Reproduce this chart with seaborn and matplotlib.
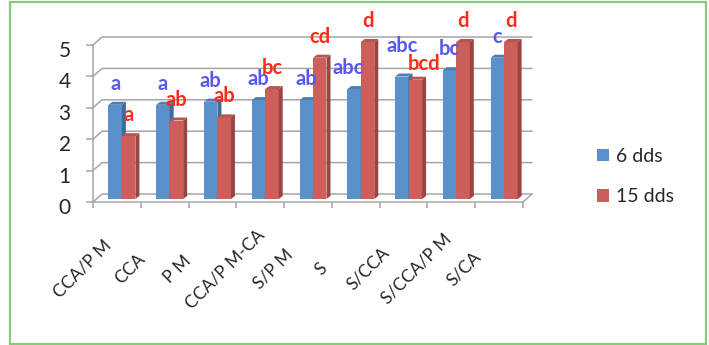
import matplotlib
matplotlib.use("Agg")
import matplotlib.pyplot as plt
from matplotlib.patches import Polygon, Rectangle
from matplotlib.transforms import ScaledTranslation
import numpy as np
import pandas as pd
import seaborn as sns

# Treatments and mean scores at two sampling dates
treatments = ["CCA/P M", "CCA", "P M", "CCA/P M-CA", "S/P M", "S",
              "S/CCA", "S/CCA/P M", "S/CA"]
series = ["6 dds", "15 dds"]
dds6 = [3.0, 3.0, 3.1, 3.15, 3.15, 3.5, 3.9, 4.1, 4.5]
dds15 = [2.0, 2.5, 2.6, 3.5, 4.5, 5.0, 3.8, 5.0, 5.0]
letters6 = ["a", "a", "ab", "ab", "ab", "abc", "abc", "bc", "c"]
letters15 = ["a", "ab", "ab", "bc", "cd", "d", "bcd", "d", "d"]
yticks = [0, 1, 2, 3, 4, 5]

# small pixel nudges that keep crowded letters apart
nudge6 = {5: (-6, 0), 6: (0, 10)}
nudge15 = {6: (9, -5)}

df = pd.DataFrame({
    "treatment": treatments * 2,
    "value": dds6 + dds15,
    "stage": [series[0]] * len(treatments) + [series[1]] * len(treatments),
})

sns.set_style("white")
plt.rcParams["font.family"] = ["Lato", "DejaVu Sans"]

blue, red = "#5B90CA", "#CD5F5B"
blue_side, red_side = "#3F6C9F", "#9A4542"
blue_top, red_top = "#4C7DB5", "#B85450"
grid_col = "#A6A6A6"
text_col = "#262626"

W, H = 709, 345
fig = plt.figure(figsize=(W / 100, H / 100), dpi=100)
ax = fig.add_axes([93 / W, 143 / H, 430 / W, 157 / H])

sns.barplot(data=df, x="treatment", y="value", hue="stage", order=treatments,
            hue_order=series, palette=[blue, red], width=0.565, gap=0,
            saturation=1, linewidth=0, errorbar=None, ax=ax)
ax.set_xlim(-0.5, len(treatments) - 0.5)
ax.set_ylim(0, 5)

# pixel <-> data scale of the front plane
p0 = ax.transData.transform((0, 0))
p1 = ax.transData.transform((1, 1))
pxx, pxy = p1[0] - p0[0], p1[1] - p0[1]

def px(dx, dy):
    return ScaledTranslation(dx / 100, dy / 100, fig.dpi_scale_trans)

# back wall and floor of the 3-D box
bx, by = 9 / pxx, 8 / pxy
x_lo, x_hi = -0.5, len(treatments) - 0.5
for v in yticks:
    ax.plot([x_lo, x_lo + bx, x_hi + bx], [v, v + by, v + by], color=grid_col,
            lw=1.1, clip_on=False, zorder=1, solid_joinstyle="miter")
ax.plot([x_hi, x_hi + bx], [0, by], color=grid_col, lw=1.1, clip_on=False, zorder=1)

# bars sit at mid depth, with a right side face and a top face
bar_off = ax.transData + px(5, 3)
dxb, dyb = 4 / pxx, 3 / pxy
for k, (cont, side_c, top_c) in enumerate(zip(ax.containers, [blue_side, red_side],
                                               [blue_top, red_top])):
    z = 3 + k
    for patch in cont.patches:
        x0, w, h = patch.get_x(), patch.get_width(), patch.get_height()
        x1 = x0 + w
        patch.set_transform(bar_off)
        patch.set_zorder(z)
        patch.set_clip_on(False)
        ax.add_patch(Polygon([(x1, 0), (x1, h), (x1 + dxb, h + dyb), (x1 + dxb, dyb)],
                             closed=True, fc=side_c, ec="none", transform=bar_off,
                             zorder=z, clip_on=False))
        ax.add_patch(Polygon([(x0, h), (x1, h), (x1 + dxb, h + dyb), (x0 + dxb, h + dyb)],
                             closed=True, fc=top_c, ec="none", transform=bar_off,
                             zorder=z, clip_on=False))

# significance letters above each bar
for cont, letters, col, nudge in zip(ax.containers, [letters6, letters15],
                                     ["#5858EE", "#FF2A1A"], [nudge6, nudge15]):
    for i, (patch, lab) in enumerate(zip(cont.patches, letters)):
        nx, ny = nudge.get(i, (0, 0))
        ax.text(patch.get_x() + patch.get_width() / 2, patch.get_height(), lab,
                ha="center", va="baseline", color=col, fontsize=14.5,
                fontweight="bold", transform=ax.transData + px(5 + nx, 18 + ny),
                zorder=6, clip_on=False)

# axes: spines, ticks and labels
for s in ["top", "right"]:
    ax.spines[s].set_visible(False)
for s in ["left", "bottom"]:
    ax.spines[s].set_color(grid_col)
    ax.spines[s].set_linewidth(1.1)
    ax.spines[s].set_zorder(2)

ax.set_yticks(yticks)
ax.set_yticklabels([str(v) for v in yticks])
ax.tick_params(axis="y", length=5, width=1.1, color=grid_col, pad=11,
               labelsize=15, labelcolor=text_col, left=True)
for lab in ax.get_yticklabels():
    lab.set_transform(lab.get_transform() + px(0, -4))

ax.set_xticks(np.arange(len(treatments)))
ax.set_xticklabels(treatments, rotation=45, ha="center", va="center",
                   rotation_mode="anchor")
ax.set_xticks(np.arange(len(treatments) + 1) - 0.5, minor=True)
ax.tick_params(axis="x", which="major", length=0, pad=0, labelsize=12.5,
               labelcolor=text_col)
ax.tick_params(axis="x", which="minor", length=4.5, width=1.1, color=grid_col,
               bottom=True)
for lab in ax.get_xticklabels():
    lab.set_transform(lab.get_transform() + px(-35, -67))
ax.set_xlabel("")
ax.set_ylabel("")

sns.move_legend(ax, "center left", bbox_to_anchor=(597 / W, 168.5 / H),
                bbox_transform=fig.transFigure, frameon=False, title=None,
                fontsize=14, handlelength=0.62, handleheight=0.62,
                handletextpad=0.35, labelspacing=1.2, borderpad=0,
                borderaxespad=0)
for t in ax.get_legend().get_texts():
    t.set_color(text_col)

# outer green frame
fig.patches.append(Rectangle((10 / W, 1 / H), 696 / W, 342 / H, fill=False,
                             ec="#86CC78", lw=1.6, transform=fig.transFigure))

fig.savefig("out.png", dpi=100)
